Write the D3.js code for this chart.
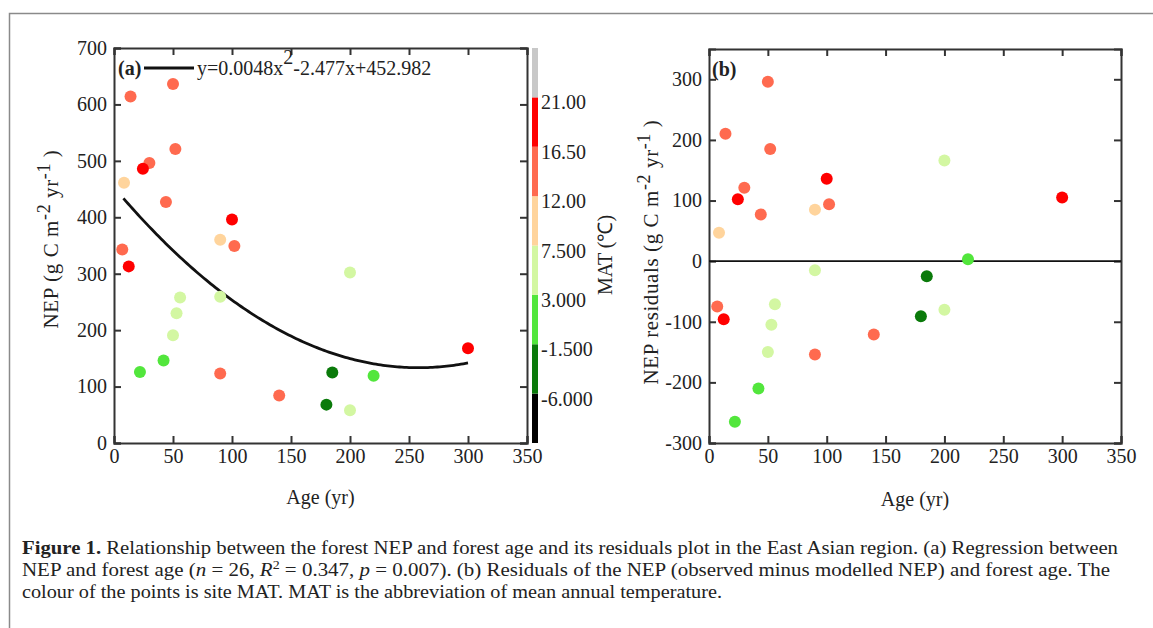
<!DOCTYPE html>
<html>
<head>
<meta charset="utf-8">
<script src="https://cdn.jsdelivr.net/npm/d3@7"></script>
<style>
  body { margin: 0; background: #fff; }
  svg { display: block; }
  text { font-family: "Liberation Serif", "Times New Roman", serif; fill: #222; }
</style>
</head>
<body>
<svg id="fig" width="1153" height="628"></svg>
<script>
// Forest sites: stand age (yr), observed NEP, residual from the quadratic fit, and site MAT (°C)
const ages      = [14, 50, 52, 30, 24.5, 8.5, 44, 100, 90, 102, 7, 12.5, 56, 53, 50, 90, 42, 22, 90, 140, 200, 300, 185, 220, 180, 200];
const nep       = [614, 636, 521, 496, 486, 461, 427, 396, 360, 349, 343, 313, 258, 230, 191, 259, 146, 126, 123, 84, 302, 168, 125, 119, 68, 58];
const residuals = [210, 296, 185, 121, 102, 47, 77, 136, 85, 94, -75, -96, -71, -105, -150, -15, -210, -265, -154, -121, 166, 105, -25, 3, -91, -80];
const mat       = [14, 14, 14, 14, 18, 10, 14, 18, 10, 14, 14, 18, 5, 5, 5, 5, 1, 1, 14, 14, 5, 18, -3, 1, -3, 5];

// Quadratic regression NEP = a*age^2 + b*age + c
const coefA = 0.0048, coefB = -2.477, coefC = 452.982;
const fitRange = [8, 300];

// MAT colour classes
const matBreaks = [-6, -1.5, 3, 7.5, 12, 16.5, 21];
const matColors = ["#000000", "#0a7a0a", "#52e63c", "#d3f7a2", "#ffd49c", "#ff6a4f", "#ff0000", "#c8c8c8"];

const ageTicks = [0, 50, 100, 150, 200, 250, 300, 350];
const nepTicks = [0, 100, 200, 300, 400, 500, 600, 700];
const residTicks = [-300, -200, -100, 0, 100, 200, 300];

const svg = d3.select("#fig");
const color = d3.scaleThreshold().domain(matBreaks).range(matColors);

// outer figure frame
svg.append("rect").attr("x", 9.5).attr("y", 13.5).attr("width", 1200).attr("height", 700)
  .attr("fill", "none").attr("stroke", "#8a8a8a").attr("stroke-width", 1.5);

function frameAxes(g, x, y, xt, yt) {
  const tick = -7;
  const ax = [
    g.append("g").attr("transform", `translate(0,${y.range()[0]})`)
      .call(d3.axisBottom(x).tickValues(xt).tickSize(tick).tickPadding(6).tickFormat(d => String(d))),
    g.append("g").attr("transform", `translate(${x.range()[0]},0)`)
      .call(d3.axisLeft(y).tickValues(yt).tickSize(tick).tickPadding(7).tickFormat(d => String(d))),
    g.append("g").attr("transform", `translate(0,${y.range()[1]})`)
      .call(d3.axisTop(x).tickValues(xt).tickSize(tick).tickFormat("")),
    g.append("g").attr("transform", `translate(${x.range()[1]},0)`)
      .call(d3.axisRight(y).tickValues(yt).tickSize(tick).tickFormat(""))
  ];
  ax.forEach(a => {
    a.select(".domain").attr("stroke", "#333").attr("stroke-width", 2);
    a.selectAll(".tick line").attr("stroke", "#333").attr("stroke-width", 2);
    a.selectAll(".tick text").attr("font-size", 20).attr("fill", "#222")
      .attr("font-family", "'Liberation Serif', 'Times New Roman', serif");
  });
}

function yTitle(g, x, y, main) {
  const t = g.append("text").attr("transform", `translate(${x},${y}) rotate(-90)`)
    .attr("text-anchor", "middle").attr("font-size", 21).attr("letter-spacing", 0.6);
  t.append("tspan").text(main + " (g C m");
  t.append("tspan").attr("dy", -8).attr("font-size", 18).text("-2");
  t.append("tspan").attr("dy", 8).text(" yr");
  t.append("tspan").attr("dy", -8).attr("font-size", 18).text("-1");
  t.append("tspan").attr("dy", 8).text(" )");
}

// ---------- panel (a): NEP vs age ----------
const xA = d3.scaleLinear().domain([0, 350]).range([114, 527]);
const yA = d3.scaleLinear().domain([0, 700]).range([443, 48]);
const gA = svg.append("g");
frameAxes(gA, xA, yA, ageTicks, nepTicks);

const fitPts = d3.range(fitRange[0], fitRange[1] + 0.5, 2).map(a => [a, coefA * a * a + coefB * a + coefC]);
gA.append("path").datum(fitPts)
  .attr("d", d3.line().x(d => xA(d[0])).y(d => yA(d[1])))
  .attr("fill", "none").attr("stroke", "#111").attr("stroke-width", 2.8);

gA.selectAll("circle").data(ages).join("circle")
  .attr("cx", (d, i) => xA(ages[i])).attr("cy", (d, i) => yA(nep[i]))
  .attr("r", 6).attr("fill", (d, i) => color(mat[i]));

// legend for the regression line
gA.append("text").attr("x", 118).attr("y", 75).attr("font-size", 20).attr("font-weight", "bold").text("(a)");
gA.append("line").attr("x1", 144).attr("x2", 194).attr("y1", 68).attr("y2", 68)
  .attr("stroke", "#111").attr("stroke-width", 2.8);
const eq = gA.append("text").attr("x", 197).attr("y", 75).attr("font-size", 20);
eq.append("tspan").text(`y=${coefA}x`);
eq.append("tspan").attr("dy", -11).text("2");
eq.append("tspan").attr("dy", 11).text(`${coefB}x+${coefC}`);

gA.append("text").attr("x", xA(175)).attr("y", 504).attr("text-anchor", "middle").attr("font-size", 20).text("Age (yr)");
yTitle(gA, 58, 239, "NEP");

// colour bar
const cb = d3.scaleLinear().domain([-10.5, 25.5]).range([443, 48]);
const cbEdges = [-10.5, ...matBreaks, 25.5];
gA.selectAll("rect.cb").data(matColors).join("rect").attr("class", "cb")
  .attr("x", 532).attr("width", 6)
  .attr("y", (d, i) => cb(cbEdges[i + 1])).attr("height", (d, i) => cb(cbEdges[i]) - cb(cbEdges[i + 1]))
  .attr("fill", d => d);
gA.selectAll("text.cbl").data(matBreaks).join("text").attr("class", "cbl")
  .attr("x", 541).attr("y", d => cb(d) + 12).attr("font-size", 20)
  .text(d => d.toPrecision(4));
gA.append("text").attr("transform", "translate(612,255) rotate(-90)")
  .attr("text-anchor", "middle").attr("font-size", 20).text("MAT (℃)");

// ---------- panel (b): residuals vs age ----------
const xB = d3.scaleLinear().domain([0, 350]).range([709, 1121]);
const yB = d3.scaleLinear().domain([-300, 350]).range([443, 49]);
const gB = svg.append("g");
frameAxes(gB, xB, yB, ageTicks, residTicks);

gB.append("line").attr("x1", xB(0)).attr("x2", xB(350)).attr("y1", yB(0)).attr("y2", yB(0))
  .attr("stroke", "#111").attr("stroke-width", 1.6);

gB.selectAll("circle").data(ages).join("circle")
  .attr("cx", (d, i) => xB(ages[i])).attr("cy", (d, i) => yB(residuals[i]))
  .attr("r", 6).attr("fill", (d, i) => color(mat[i]));

gB.append("text").attr("x", 712).attr("y", 76).attr("font-size", 20).attr("font-weight", "bold").text("(b)");
gB.append("text").attr("x", xB(175)).attr("y", 506).attr("text-anchor", "middle").attr("font-size", 20).text("Age (yr)");
yTitle(gB, 658, 252, "NEP residuals");

// ---------- caption ----------
const cap = svg.append("g").attr("font-size", 18);
const l1 = cap.append("text").attr("x", 22).attr("y", 554).attr("font-size", 18)
  .attr("textLength", 1096).attr("lengthAdjust", "spacingAndGlyphs");
l1.append("tspan").attr("font-weight", "bold").text("Figure 1.");
l1.append("tspan").text(" Relationship between the forest NEP and forest age and its residuals plot in the East Asian region. (a) Regression between");

const l2 = cap.append("text").attr("x", 22).attr("y", 576).attr("font-size", 18)
  .attr("textLength", 1088).attr("lengthAdjust", "spacingAndGlyphs");
l2.append("tspan").text("NEP and forest age (");
l2.append("tspan").attr("font-style", "italic").text("n");
l2.append("tspan").text(" = 26, ");
l2.append("tspan").attr("font-style", "italic").text("R");
l2.append("tspan").attr("dy", -7).attr("font-size", 12).text("2");
l2.append("tspan").attr("dy", 7).text(" = 0.347, ");
l2.append("tspan").attr("font-style", "italic").text("p");
l2.append("tspan").text(" = 0.007). (b) Residuals of the NEP (observed minus modelled NEP) and forest age. The");

cap.append("text").attr("x", 22).attr("y", 598).attr("font-size", 18)
  .attr("textLength", 700).attr("lengthAdjust", "spacingAndGlyphs")
  .text("colour of the points is site MAT. MAT is the abbreviation of mean annual temperature.");
</script>
</body>
</html>
